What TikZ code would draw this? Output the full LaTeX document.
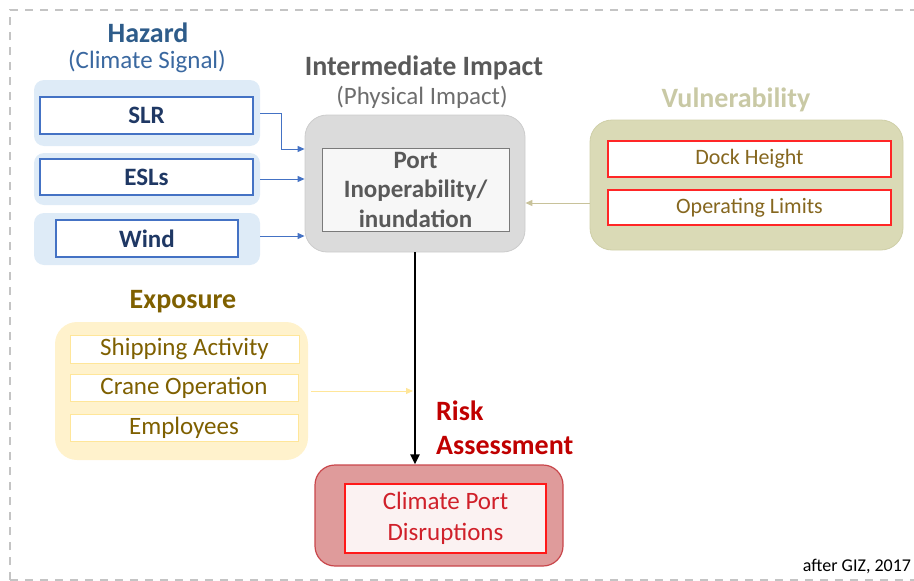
\documentclass[tikz,border=0pt]{standalone}
\usepackage{fontspec}
\setmainfont{Carlito}
\usetikzlibrary{arrows.meta,calc}
\definecolor{hzT}{HTML}{2E5C8A}
\definecolor{hzS}{HTML}{3A68A0}
\definecolor{hzTxt}{HTML}{1F3864}
\definecolor{hzLine}{HTML}{4472C4}
\definecolor{hzBg}{HTML}{DEEBF7}
\definecolor{imBg}{HTML}{DBDBDB}
\definecolor{imLine}{HTML}{CCCCCC}
\definecolor{imTxt}{HTML}{595959}
\definecolor{imSub}{HTML}{6E6E6E}
\definecolor{vuT}{HTML}{C9C9A5}
\definecolor{vuBg}{HTML}{DADAB6}
\definecolor{vuLine}{HTML}{CFCFA8}
\definecolor{vuTxt}{HTML}{86671F}
\definecolor{vuArr}{HTML}{C8C29A}
\definecolor{exT}{HTML}{7F6000}
\definecolor{exBg}{HTML}{FFF2CC}
\definecolor{exLine}{HTML}{FFE699}
\definecolor{rdBg}{HTML}{DF9B9B}
\definecolor{rdLine}{HTML}{C9464B}
\definecolor{rdIn}{HTML}{FBF2F2}
\definecolor{rdTxt}{HTML}{C00000}
\definecolor{rdTxt2}{HTML}{D0202A}
\definecolor{frame}{HTML}{C4C4C4}
\begin{document}
\begin{tikzpicture}[x=1pt,y=-1pt,
  bg/.style={rounded corners=#1, inner sep=0pt},
  inbox/.style={draw, line width=1.3pt, fill=white, inner sep=0pt, align=center},
  ttl/.style={font=\fontsize{28}{33}\selectfont\bfseries, inner sep=0pt},
  sub/.style={font=\fontsize{25}{30}\selectfont, inner sep=0pt},
  harr/.style={draw=hzLine, line width=1pt, -{Triangle[length=7pt,width=6pt]}},
]
\useasboundingbox (0,0) rectangle (914,581);
% frame
\draw[frame, line width=2pt, dash pattern=on 8pt off 7pt] (10,580) -- (10,10) -- (914,10);
\draw[frame, line width=2pt, dash pattern=on 8pt off 7pt] (10,580) -- (914,580);

% Hazard
\node[ttl, text=hzT] (hazT) at (148,33) {Hazard};
\node[sub, text=hzS] (hazS) at (147,62) {(Climate Signal)};
\node[bg=10pt, fill=hzBg, minimum width=226pt, minimum height=66pt] (slrBG) at (147,113) {};
\node[bg=10pt, fill=hzBg, minimum width=226pt, minimum height=52pt] (eslBG) at (147,179) {};
\node[bg=10pt, fill=hzBg, minimum width=226pt, minimum height=52pt] (windBG) at (147,239) {};
\node[inbox, draw=hzLine, text=hzTxt, minimum width=213pt, minimum height=37pt, font=\fontsize{25}{30}\selectfont\bfseries] (slr) at (146.5,115.5) {SLR};
\node[inbox, draw=hzLine, text=hzTxt, minimum width=213pt, minimum height=36pt, font=\fontsize{25}{30}\selectfont\bfseries] (esl) at (146.5,177) {ESLs};
\node[inbox, draw=hzLine, text=hzTxt, minimum width=182pt, minimum height=37pt, font=\fontsize{25}{30}\selectfont\bfseries] (wind) at (147,238.5) {Wind};

% Intermediate impact
\node[ttl, text=imTxt] (impT) at (424,68) {Intermediate Impact};
\node[sub, text=imSub] (impS) at (422,97) {(Physical Impact)};
\node[bg=22pt, fill=imBg, draw=imLine, line width=0.8pt, minimum width=220pt, minimum height=137pt] (imp) at (415,183.5) {};
\node[inbox, draw=imTxt!80, line width=1pt, fill=white!97!black, text=imTxt, minimum width=187pt, minimum height=83pt, font=\fontsize{25}{29.5}\selectfont\bfseries] (port) at (415.5,189.5) {Port\\Inoperability/\\inundation};

% Vulnerability
\node[ttl, text=vuT] (vulT) at (736,100) {Vulnerability};
\node[bg=22pt, fill=vuBg, draw=vuLine, line width=0.8pt, minimum width=313pt, minimum height=130pt] (vul) at (746.5,185) {};
\node[inbox, draw=red!85, text=vuTxt, minimum width=283pt, minimum height=36pt, font=\fontsize{22}{27}\selectfont] (dock) at (749.5,159) {Dock Height};
\node[inbox, draw=red!85, text=vuTxt, minimum width=283pt, minimum height=35pt, font=\fontsize{22}{27}\selectfont] (oper) at (749.5,207.5) {Operating Limits};

% Exposure
\node[ttl, text=exT] (expT) at (183,302) {Exposure};
\node[bg=22pt, fill=exBg, minimum width=253pt, minimum height=138pt] (exp) at (181.5,391) {};
\node[inbox, draw=exLine, line width=1pt, text=exT, minimum width=229pt, minimum height=28pt, font=\fontsize{25}{30}\selectfont] (ship) at (184.5,349) {Shipping Activity};
\node[inbox, draw=exLine, line width=1pt, text=exT, minimum width=228pt, minimum height=27pt, font=\fontsize{25}{30}\selectfont] (crane) at (184,387.5) {Crane Operation};
\node[inbox, draw=exLine, line width=1pt, text=exT, minimum width=228pt, minimum height=27pt, font=\fontsize{25}{30}\selectfont] (empl) at (184,427.5) {Employees};

% Risk
\node[ttl, text=rdTxt, anchor=west, align=left, font=\fontsize{28}{34}\selectfont\bfseries] (riskT) at (436,428) {Risk\\Assessment};
\node[bg=20pt, fill=rdBg, draw=rdLine, line width=1.2pt, minimum width=248pt, minimum height=101pt] (dis) at (439,515.5) {};
\node[inbox, draw=red!90, fill=rdIn, text=rdTxt2, minimum width=201pt, minimum height=69pt, font=\fontsize{25}{31}\selectfont] (disIn) at (445.5,518.5) {Climate Port\\Disruptions};

\node[font=\fontsize{18}{22}\selectfont, inner sep=0pt, text=black] (src) at (857,566) {after GIZ, 2017};

% connectors
\draw[harr] (slrBG.east) -- ++(21,0) |- ([yshift=34.5pt]imp.west);
\draw[harr] (eslBG.east) -- (eslBG.east -| imp.west);
\draw[harr] ([yshift=3pt]windBG.east) -- ([yshift=3pt]windBG.east -| imp.west);
\draw[draw=vuArr, line width=1pt, -{Triangle[length=7pt,width=6pt]}] ([yshift=-18pt]vul.west) -- ([yshift=-18pt]vul.west -| imp.east);
\draw[draw=exLine, line width=1pt, -{Triangle[length=7pt,width=6pt]}] ([xshift=3pt]exp.east) -- ([xshift=-2pt]exp.east -| imp.south);
\draw[line width=2.6pt, -{Triangle[length=10pt,width=9pt]}] (imp.south) -- (imp.south |- dis.north);
\end{tikzpicture}
\end{document}
